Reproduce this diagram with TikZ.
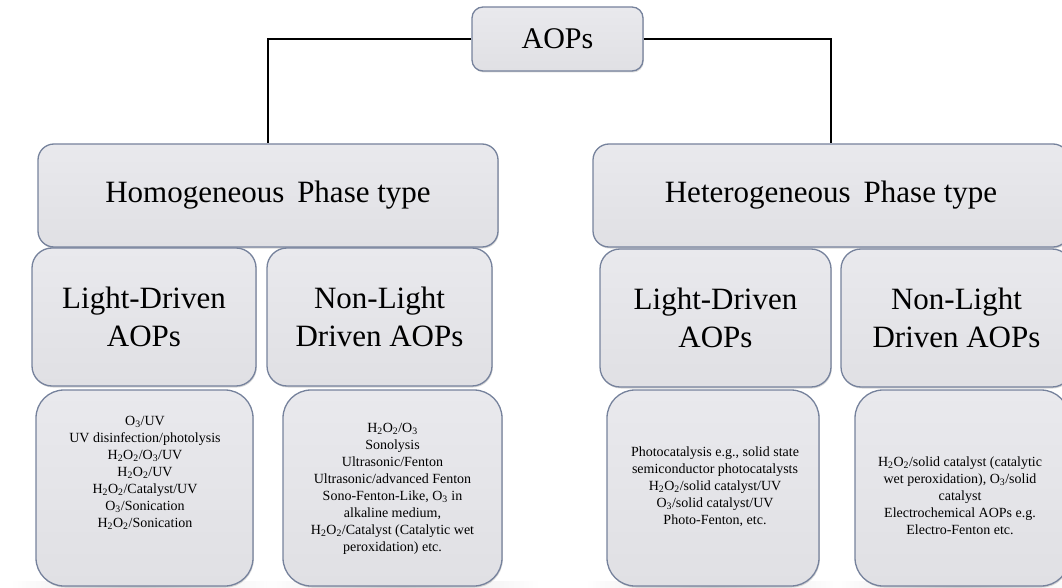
\documentclass[tikz,border=0pt]{standalone}
\usepackage{fontspec}
\setmainfont{Liberation Serif}
\usetikzlibrary{shadows,fadings}
\newcommand{\sub}[1]{\textsubscript{#1}}
\tikzfading[name=fade sides, left color=transparent!100, right color=transparent!100, middle color=transparent!30]
\begin{document}
\begin{tikzpicture}[x=1pt,y=-1pt,
  box/.style={draw={rgb,255:red,118;green,130;blue,156}, line width=1.3pt,
    top color={rgb,255:red,233;green,233;blue,237},
    bottom color={rgb,255:red,224;green,224;blue,228},
    drop shadow={opacity=0.3,shadow xshift=0.8pt,shadow yshift=-1.5pt},
    inner sep=0pt, align=center},
  topbox/.style={box, rounded corners=11pt, font=\fontsize{30}{36}\selectfont},
  phasebox/.style={box, rounded corners=16pt, font=\fontsize{31}{38}\selectfont},
  kindbox/.style={box, rounded corners=20pt, font=\fontsize{31}{38}\selectfont},
  listbox/.style={box, rounded corners=28pt},
  listtext/.style={align=center, inner sep=0pt, font=\fontsize{14}{17}\selectfont},
  link/.style={draw=black, line width=1.6pt},
  floor/.style={fill=black!45, opacity=0.35, path fading=fade sides}
]
\useasboundingbox (0,0) rectangle (1062,588);

% faint floor shadows under the lowest row
\fill[floor] (10,581) rectangle (275,588);
\fill[floor] (265,581) rectangle (540,588);
\fill[floor] (585,581) rectangle (840,588);
\fill[floor] (835,581) rectangle (1080,588);

% root
\node[topbox, minimum width=171pt, minimum height=64pt] (aops) at (557.5,39) {AOPs};

% phase types
\node[phasebox, minimum width=460pt, minimum height=103pt] (homo) at (268,195.5) {\raisebox{-4pt}{Homogeneous\, Phase type}};
\node[phasebox, minimum width=476pt, minimum height=103pt] (het) at (831,195.5) {\raisebox{-4pt}{Heterogeneous\, Phase type}};

% light / non-light categories
\node[kindbox, minimum width=224pt, minimum height=138pt] (hld) at (144,317) {Light-Driven\\AOPs};
\node[kindbox, minimum width=225pt, minimum height=138pt] (hnl) at (379.5,317) {Non-Light\\Driven AOPs};
\node[kindbox, minimum width=231pt, minimum height=138pt] (eld) at (715.5,318) {Light-Driven\\AOPs};
\node[kindbox, minimum width=231pt, minimum height=138pt] (enl) at (956.5,318) {Non-Light\\Driven AOPs};

% process lists
\node[listbox, minimum width=217pt, minimum height=196pt] (hldl) at (144.5,488) {};
\node[listbox, minimum width=219pt, minimum height=196pt] (hnll) at (392.5,488) {};
\node[listbox, minimum width=212pt, minimum height=196pt] (eldl) at (713,488) {};
\node[listbox, minimum width=214pt, minimum height=196pt] (enll) at (962,488) {};

\node[listtext] (hldt) at (145,473) {O\sub{3}/UV\\UV disinfection/photolysis\\H\sub{2}O\sub{2}/O\sub{3}/UV\\H\sub{2}O\sub{2}/UV\\H\sub{2}O\sub{2}/Catalyst/UV\\O\sub{3}/Sonication\\H\sub{2}O\sub{2}/Sonication};
\node[listtext] (hnlt) at (392.5,489) {H\sub{2}O\sub{2}/O\sub{3}\\Sonolysis\\Ultrasonic/Fenton\\Ultrasonic/advanced Fenton\\Sono-Fenton-Like, O\sub{3} in\\alkaline medium,\\H\sub{2}O\sub{2}/Catalyst (Catalytic wet\\peroxidation) etc.};
\node[listtext] (eldt) at (715,487) {Photocatalysis e.g., solid state\\semiconductor photocatalysts\\H\sub{2}O\sub{2}/solid catalyst/UV\\O\sub{3}/solid catalyst/UV\\Photo-Fenton, etc.};
\node[listtext] (enlt) at (960,496) {H\sub{2}O\sub{2}/solid catalyst (catalytic\\wet peroxidation), O\sub{3}/solid\\catalyst\\Electrochemical AOPs e.g.\\Electro-Fenton etc.};

% connectors from the root
\draw[link] (aops.west) -| (homo.north);
\draw[link] (aops.east) -| (het.north);
\end{tikzpicture}
\end{document}
